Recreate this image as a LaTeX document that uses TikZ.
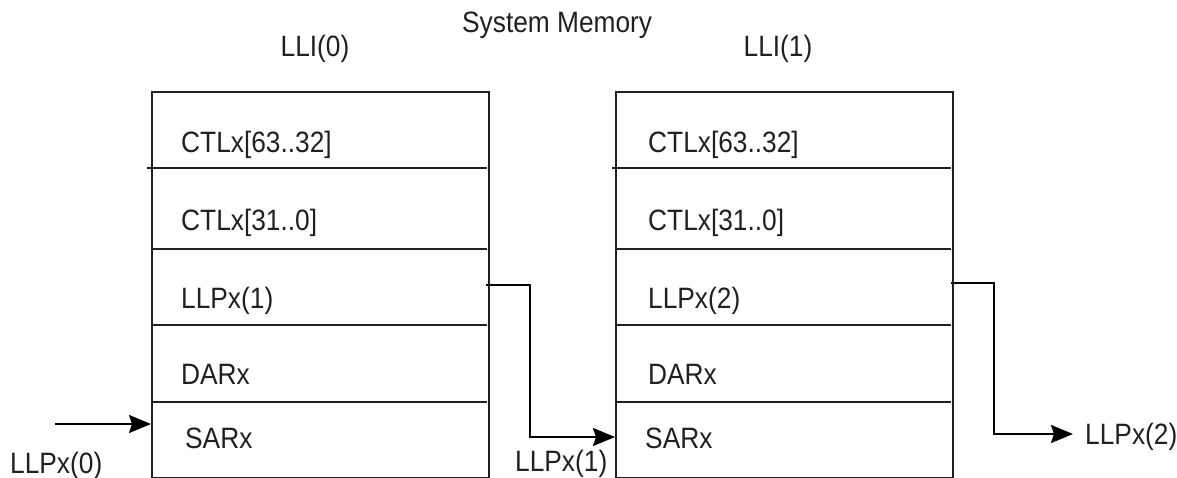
\documentclass[tikz,border=0pt]{standalone}
\usepackage{fontspec}
\setmainfont{Liberation Sans}
\usetikzlibrary{arrows.meta}
\definecolor{ink}{RGB}{35,31,32}
\newcommand{\tallt}[1]{\scalebox{1}[1.12]{#1}}
\tikzset{
  boxline/.style={draw=ink, line width=2pt},
  membox/.style={boxline, minimum width=337pt, minimum height=386pt, anchor=north west, inner sep=0pt},
  lbl/.style={anchor=base west, inner sep=0pt, text=ink, font=\fontsize{26.3}{30}\selectfont},
  clbl/.style={lbl, anchor=base},
  conn/.style={draw=black, line width=2.4pt, -{Stealth[length=22pt,width=18pt,inset=3pt]}},
}
\begin{document}
\begin{tikzpicture}[x=1pt,y=-1pt]
\useasboundingbox (0,0) rectangle (1177,478);
% boxes
\node[membox] (B0) at (151,91) {};
\node[membox] (B1) at (615,91) {};
% dividers box 0
\draw[boxline] (147,168) -- (487,168);
\draw[boxline] (151,249) -- (487,249);
\draw[boxline] (151,325) -- (487,325);
\draw[boxline] (151,402) -- (487,402);
% dividers box 1
\draw[boxline] (612,168) -- (951,168);
\draw[boxline] (615,249) -- (951,249);
\draw[boxline] (615,325) -- (951,325);
\draw[boxline] (615,402) -- (951,402);
% row texts box 0
\node[lbl] (a1) at (181,153) {\tallt{CTLx[63..32]}};
\node[lbl] (a2) at (181,231) {\tallt{CTLx[31..0]}};
\node[lbl] (a3) at (181,308) {\tallt{LLPx(1)}};
\node[lbl] (a4) at (181,384) {\tallt{DARx}};
\node[lbl] (a5) at (185,448) {\tallt{SARx}};
% row texts box 1
\node[lbl] (b1) at (648,153) {\tallt{CTLx[63..32]}};
\node[lbl] (b2) at (648,231) {\tallt{CTLx[31..0]}};
\node[lbl] (b3) at (648,308) {\tallt{LLPx(2)}};
\node[lbl] (b4) at (648,384) {\tallt{DARx}};
\node[lbl] (b5) at (645,448) {\tallt{SARx}};
% titles
\node[lbl] (sm) at (462,33) {\tallt{System Memory}};
\node[clbl] (l0) at (315,57) {\tallt{LLI(0)}};
\node[clbl] (l1) at (778,57) {\tallt{LLI(1)}};
% outside labels
\node[lbl] (p0) at (10,473) {\tallt{LLPx(0)}};
\node[lbl] (p1) at (515,471) {\tallt{LLPx(1)}};
\node[lbl] (p2) at (1085,444) {\tallt{LLPx(2)}};
% connectors
\coordinate (in0) at (55,424);
\coordinate (o0) at (486,285);
\coordinate (k0) at (530,437);
\coordinate (o1) at (951,283);
\coordinate (k1) at (994,434);
\coordinate (e1) at (1073,434);
\draw[conn] (in0) -- (B0.west |- in0);
\draw[conn] (o0) -| (k0) -- (B1.west |- k0);
\draw[conn] (o1) -| (k1) -- (e1);
\end{tikzpicture}
\end{document}
